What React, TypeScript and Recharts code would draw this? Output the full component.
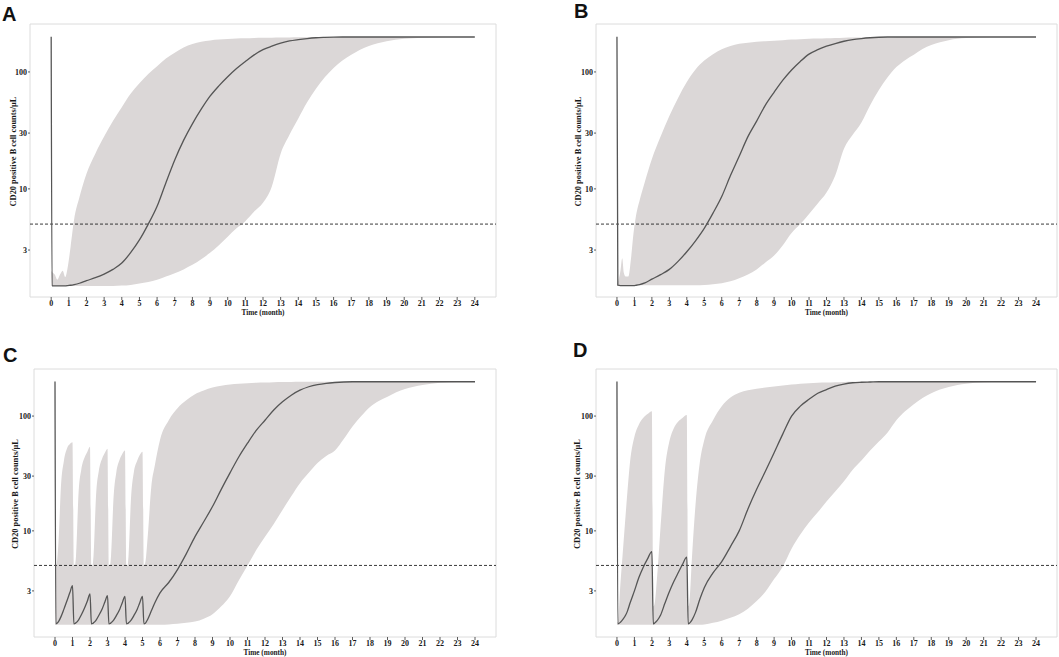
import React from 'react';
import { ComposedChart, Area, Line, XAxis, YAxis, ReferenceLine, ReferenceArea } from 'recharts';

// ---------- shared ticks / labels ----------
const monthTicks = [0, 1, 2, 3, 4, 5, 6, 7, 8, 9, 10, 11, 12, 13, 14, 15, 16, 17, 18, 19, 20, 21, 22, 23, 24];
const countTicks = [3, 10, 30, 100];
const threshold = 5;
const xTitle = 'Time (month)';
const yTitle = 'CD20 positive B cell counts/μL';

// ---------- Panel A ----------
const timeA = [0, 0.05, 0.2, 0.35, 0.5, 0.65, 0.8, 0.95, 1.1, 1.3, 1.6, 2, 2.5, 3, 3.5, 4, 4.5, 5, 5.5, 6, 6.5, 7, 7.5, 8, 8.5, 9, 9.5, 10, 10.5, 11, 11.5, 12, 12.5, 13, 13.5, 14, 14.5, 15, 15.5, 16, 16.5, 17, 17.5, 18, 19, 20, 21, 22, 23, 24];
const medianA = [200, 1.48, 1.48, 1.48, 1.48, 1.48, 1.48, 1.49,
  1.5, 1.52, 1.56,
  1.64, 1.74, 1.87, 2.05, 2.32, 2.85, 3.66, 5.0, 7.1, 11.3,
  17.7, 26, 36, 48, 62, 76, 91, 107, 123, 140,
  155, 166, 176, 184, 189, 193, 196, 197.5, 198.5, 199,
  199, 199, 199,
  199, 199, 199, 199, 199, 199];
const lowerA = [1.48, 1.48, 1.48, 1.48, 1.48, 1.48, 1.48, 1.48,
  1.48, 1.48, 1.48,
  1.48, 1.48, 1.48, 1.48, 1.49, 1.51, 1.55, 1.6, 1.67, 1.78,
  1.9, 2.05, 2.24, 2.5, 2.84, 3.3, 3.9, 4.6, 5.3, 6.4,
  7.6, 10.5, 20, 29, 40, 55, 72, 90, 108, 125,
  140, 155, 167,
  183, 192, 196, 198, 199, 199];
const upperA = [2.0, 1.95, 1.85, 1.67, 1.85, 2.0, 1.76, 2.2,
  3.2, 5.5, 8.5,
  13.5, 20, 28, 38, 50, 65, 80, 96, 112, 130,
  146, 162, 173, 181, 186, 189, 191, 193, 194, 195,
  196, 196.5, 197, 197.5, 198, 198, 198.5, 198.5, 199, 199,
  199, 199, 199,
  199, 199, 199, 199, 199, 199];

// ---------- Panel B ----------
const timeB = [0, 0.05, 0.2, 0.3, 0.4, 0.5, 0.65, 0.8, 0.95, 1.1, 1.3, 1.6, 2, 2.5, 3, 3.5, 4, 4.5, 5, 5.5, 6, 6.5, 7, 7.5, 8, 8.5, 9, 9.5, 10, 10.5, 11, 11.5, 12, 12.5, 13, 13.5, 14, 14.5, 15, 15.5, 16, 16.5, 17, 17.5, 18, 19, 20, 21, 22, 23, 24];
const medianB = [200, 1.5, 1.49, 1.49, 1.49, 1.49, 1.49, 1.49, 1.49,
  1.5, 1.52, 1.57,
  1.69, 1.85, 2.05, 2.4, 2.9, 3.6, 4.6, 6.2, 8.6, 13,
  19, 28, 38, 52, 67, 85, 104, 123, 142, 155,
  166, 175, 183, 189, 193, 196, 198, 199, 199, 199,
  199, 199, 199,
  199, 199, 199, 199, 199, 199];
const lowerB = [1.5, 1.5, 1.5, 1.5, 1.5, 1.5, 1.5, 1.5, 1.5,
  1.5, 1.5, 1.5,
  1.5, 1.5, 1.5, 1.5, 1.5, 1.5, 1.51, 1.53, 1.56, 1.62,
  1.72, 1.85, 2.05, 2.35, 2.7, 3.3, 4.2, 5.0, 6.1, 7.5,
  9.3, 13, 22, 29, 37, 52, 70, 90, 110, 126,
  140, 157, 170,
  187, 195, 198, 199, 199, 199];
const upperB = [1.55, 1.6, 2.0, 2.55, 1.9, 1.78, 1.78, 2.5, 4.2,
  6.0, 8.0, 11.5,
  18, 28, 42, 60, 82, 105, 125, 142, 156, 167,
  174, 178, 181, 183, 185, 187, 189, 190, 192, 193,
  194, 195, 196, 197, 197, 198, 198, 198, 199, 199,
  199, 199, 199,
  199, 199, 199, 199, 199, 199];

// ---------- Panel C ----------
const timeC = [0, 0.05, 0.1, 0.2, 0.35, 0.5, 0.7, 0.85, 1.0,
  1.08, 1.15, 1.2, 1.35, 1.5, 1.7, 1.85, 2.0,
  2.08, 2.15, 2.2, 2.35, 2.5, 2.7, 2.85, 3.0,
  3.08, 3.15, 3.2, 3.35, 3.5, 3.7, 3.85, 4.0,
  4.08, 4.15, 4.2, 4.35, 4.5, 4.7, 4.85, 5.0,
  5.08, 5.15, 5.3, 5.5, 5.7,
  6, 6.5, 7, 7.5, 8, 8.5, 9, 9.5, 10, 10.5,
  11, 11.5, 12, 12.5, 13, 13.5, 14, 14.5, 15, 15.5,
  16, 16.5, 17, 17.5, 18, 18.5, 19, 19.5, 20,
  21, 22, 23, 24];
const medianC = [200, 1.55, 1.56, 1.62, 1.8, 2.06, 2.5, 2.9, 3.33,
  1.55, 1.56, 1.58, 1.68, 1.85, 2.15, 2.45, 2.83,
  1.55, 1.56, 1.58, 1.67, 1.83, 2.1, 2.4, 2.73,
  1.55, 1.56, 1.58, 1.67, 1.82, 2.08, 2.38, 2.69,
  1.55, 1.56, 1.58, 1.67, 1.82, 2.08, 2.38, 2.69,
  1.55, 1.56, 1.7, 2.0, 2.35,
  2.88, 3.55, 4.6, 6.3, 8.9, 12, 16.3, 23, 32, 44,
  58, 75, 92, 113, 133, 152, 168, 180, 188, 193,
  196, 198, 199, 199, 199, 199, 199, 199, 199,
  199, 199, 199, 199];
const lowerC = [1.52, 1.52, 1.52, 1.52, 1.52, 1.52, 1.52, 1.52, 1.52,
  1.52, 1.52, 1.52, 1.52, 1.52, 1.52, 1.52, 1.52,
  1.52, 1.52, 1.52, 1.52, 1.52, 1.52, 1.52, 1.52,
  1.52, 1.52, 1.52, 1.52, 1.52, 1.52, 1.52, 1.52,
  1.52, 1.52, 1.52, 1.52, 1.52, 1.52, 1.52, 1.52,
  1.52, 1.52, 1.52, 1.52, 1.52,
  1.52, 1.53, 1.55, 1.58, 1.62, 1.72, 1.88, 2.2, 2.7, 3.7,
  5.0, 6.8, 8.9, 11.5, 15.2, 20, 26, 32, 39, 45,
  50, 63, 81, 100, 120, 135, 147, 161, 172,
  186, 195, 198, 199];
const upperC = [5, 5, 5.2, 8, 26, 40, 53, 57, 59,
  5, 5, 6, 22, 34, 44, 49, 54,
  5, 5, 6, 21, 33, 43, 48, 52,
  5, 5, 6, 20, 32, 42, 47, 50,
  5, 5, 6, 20, 32, 41, 46, 49,
  5, 5.2, 9, 24, 37,
  62, 92, 117, 137, 155, 167, 177, 184, 188, 191,
  193, 195, 196, 197, 198, 198.5, 199, 199, 199, 199,
  199, 199, 199, 199, 199, 199, 199, 199, 199,
  199, 199, 199, 199];

// ---------- Panel D ----------
const timeD = [0, 0.05, 0.2, 0.35, 0.5, 0.6, 0.75, 1.0, 1.25, 1.5, 1.75, 2.0,
  2.08, 2.15, 2.3, 2.5, 2.75, 3.0, 3.25, 3.5, 3.75, 4.0,
  4.08, 4.15, 4.3, 4.5, 4.75,
  5, 5.5, 6, 6.5, 7, 7.5, 8, 8.5, 9, 9.5,
  10, 10.5, 11, 11.5, 12, 12.5, 13, 13.5, 14, 14.5,
  15, 15.5, 16, 16.5, 17, 17.5, 18, 18.5, 19, 19.5,
  20, 21, 22, 23, 24];
const medianD = [200, 1.55, 1.6, 1.7, 1.85, 2.0, 2.35, 3.0, 3.9, 4.8, 5.7, 6.6,
  1.55, 1.57, 1.65, 1.85, 2.35, 2.95, 3.6, 4.3, 5.1, 5.9,
  1.55, 1.57, 1.68, 1.95, 2.55,
  3.2, 4.3, 5.4, 7.3, 10, 15.5, 23, 33, 48, 70,
  100, 122, 140, 158, 170, 182, 190, 195, 197, 198,
  199, 199, 199, 199, 199, 199, 199, 199, 199, 199,
  199, 199, 199, 199, 199];
const lowerD = [1.52, 1.52, 1.52, 1.52, 1.52, 1.52, 1.52, 1.52, 1.52, 1.52, 1.52, 1.52,
  1.52, 1.52, 1.52, 1.52, 1.52, 1.52, 1.52, 1.52, 1.52, 1.52,
  1.52, 1.52, 1.52, 1.52, 1.52,
  1.53, 1.58, 1.65, 1.75, 1.88, 2.1, 2.45, 2.95, 3.8, 4.9,
  7.0, 9.3, 11.8, 14.5, 18, 22, 27, 34, 41, 50,
  60, 72, 92, 110, 127, 144, 158, 170, 179, 186,
  191, 197, 199, 199, 199];
const upperD = [1.6, 1.6, 3.5, 7, 14, 22, 40, 66, 84, 96, 104, 110,
  2.2, 2.3, 4, 11, 35, 60, 78, 89, 96, 102,
  2.2, 2.4, 6, 17, 40,
  62, 92, 122, 145, 160, 168, 173, 177, 181, 185,
  188, 191, 193, 195, 196, 197, 198, 199, 199, 199,
  199, 199, 199, 199, 199, 199, 199, 199, 199, 199,
  199, 199, 199, 199, 199];

// ---------- helpers ----------
function buildRows(time: number[], median: number[], lower: number[], upper: number[]) {
  return time.map((t, i) => ({ t, median: median[i], band: [lower[i], upper[i]] }));
}

const SERIF = '"Liberation Serif", "Times New Roman", serif';
const SANS = '"Liberation Sans", Arial, sans-serif';
const TEXT = '#1a1a1a';
const BAND = '#dbd7d7';

const tickStyle = { fontSize: 8, fontFamily: SERIF, fontWeight: 700, fill: TEXT };

const renderXLabel = (props: any) => {
  const vb = props && props.viewBox ? props.viewBox : { x: 0, y: 0, width: 0, height: 0 };
  return (
    <text x={vb.x + vb.width / 2} y={vb.y + 17.8} textAnchor="middle" fontSize={7.3} fontFamily={SERIF} fontWeight={700} fill={TEXT}>
      {xTitle}
    </text>
  );
};

const makeYLabel = (dx: number) => (props: any) => {
  const vb = props && props.viewBox ? props.viewBox : { x: 0, y: 0, width: 0, height: 0 };
  const cx = vb.x + vb.width + dx;
  const cy = vb.y + vb.height / 2 - 9;
  return (
    <text transform={`translate(${cx},${cy}) rotate(-90)`} textAnchor="middle" dominantBaseline="central" fontSize={8.4} fontFamily={SERIF} fontWeight={700} fill={TEXT}>
      {yTitle}
    </text>
  );
};

type PanelProps = {
  rows: any[];
  left: number;
  top: number;
  width: number;
  height: number;
  marginRight: number;
  xAxisHeight: number;
  yLabelDx: number;
};

function Panel({ rows, left, top, width, height, marginRight, xAxisHeight, yLabelDx }: PanelProps) {
  return (
    <div style={{ position: 'absolute', left, top, width, height }}>
      <ComposedChart width={width} height={height} data={rows} margin={{ top: 24, right: marginRight, bottom: 0, left: 0 }}>
        <XAxis
          dataKey="t"
          type="number"
          domain={[-1.2, 25.2]}
          allowDataOverflow
          ticks={monthTicks}
          interval={0}
          axisLine={false}
          tickLine={{ stroke: '#333', strokeWidth: 0.8 }}
          tickSize={3}
          tickMargin={0.5}
          height={xAxisHeight}
          tick={tickStyle}
          label={renderXLabel}
        />
        <YAxis
          type="number"
          scale="log"
          domain={[1.19, 257]}
          allowDataOverflow
          ticks={countTicks}
          interval={0}
          axisLine={false}
          tickLine={{ stroke: '#333', strokeWidth: 0.8 }}
          tickSize={2}
          tickMargin={1}
          width={30}
          tick={tickStyle}
          label={makeYLabel(yLabelDx)}
        />
        <ReferenceArea x1={-1.2} x2={25.2} y1={1.19} y2={257} fill="none" fillOpacity={0} stroke="#dcdcdc" strokeWidth={1} ifOverflow="visible" />
        <Area type="monotone" dataKey="band" stroke="none" fill={BAND} fillOpacity={1} isAnimationActive={false} />
        <ReferenceLine y={threshold} stroke="#222" strokeDasharray="3 2" strokeWidth={0.9} />
        <Line type="monotone" dataKey="median" stroke="#555" strokeWidth={1.3} dot={false} isAnimationActive={false} />
      </ComposedChart>
    </div>
  );
}

const rowsA = buildRows(timeA, medianA, lowerA, upperA);
const rowsB = buildRows(timeB, medianB, lowerB, upperB);
const rowsC = buildRows(timeC, medianC, lowerC, upperC);
const rowsD = buildRows(timeD, medianD, lowerD, upperD);

export default function App() {
  return (
    <div style={{ position: 'absolute', left: 0, top: 0, width: 1059, height: 657, background: '#fff', overflow: 'hidden' }}>
      <Panel rows={rowsA} left={0} top={0} width={500} height={320} marginRight={4} xAxisHeight={23} yLabelDx={-16.5} />
      <Panel rows={rowsB} left={566} top={0} width={493} height={320} marginRight={2} xAxisHeight={23} yLabelDx={-18} />
      <Panel rows={rowsC} left={4} top={345} width={496} height={312} marginRight={4} xAxisHeight={20} yLabelDx={-19} />
      <Panel rows={rowsD} left={566} top={345} width={493} height={312} marginRight={2} xAxisHeight={20} yLabelDx={-19} />
      <svg width={1059} height={657} style={{ position: 'absolute', left: 0, top: 0, pointerEvents: 'none' }}>
        <text x={2} y={21} fontSize={20} fontFamily={SANS} fontWeight={700} fill="#111">A</text>
        <text x={574} y={18} fontSize={20} fontFamily={SANS} fontWeight={700} fill="#111">B</text>
        <text x={3} y={362} fontSize={20} fontFamily={SANS} fontWeight={700} fill="#111">C</text>
        <text x={573} y={357} fontSize={20} fontFamily={SANS} fontWeight={700} fill="#111">D</text>
      </svg>
    </div>
  );
}
